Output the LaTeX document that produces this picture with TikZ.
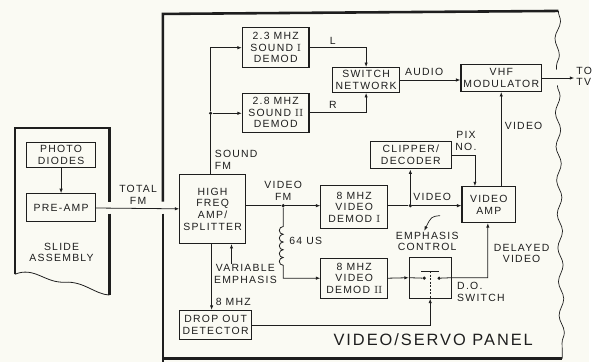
\documentclass[tikz,border=0pt]{standalone}
\usepackage{fontspec}
\newfontfamily\labelfont[LetterSpace=12]{Liberation Sans}
\usetikzlibrary{arrows.meta, decorations.pathmorphing}
\definecolor{paper}{RGB}{250,250,243}
\definecolor{ink}{RGB}{30,30,30}
\newcommand{\romnum}[1]{{\rmfamily #1}}

\begin{document}
\begin{tikzpicture}[
    x=1pt, y=-1pt, color=ink,
    font=\labelfont\fontsize{10.5}{11.7}\selectfont,
    block/.style={draw, line width=1.1pt, align=center, inner sep=1pt},
    tag/.style={align=center, inner sep=1pt},
    arrow/.style={-{Latex[length=4.5pt,width=3.4pt]}, line width=0.8pt},
    wire/.style={line width=0.8pt},
    dot/.style={circle, fill, inner sep=0pt, minimum size=3.6pt},
    panel/.style={line width=2.6pt},
    tornedge/.style={line width=0.7pt, decorate, decoration={snake, amplitude=2.5pt, segment length=34pt}}
]
    \fill[paper] (0,0) rectangle (593,364);

    % slide assembly
    \draw[panel] (110,203) -- (110,129) -- (15,129) -- (15,276);
    \draw[panel] (110,215) -- (110,297);
    \draw[wire] (15,276) .. controls (35,268) and (45,285) .. (65,284) .. controls (85,283) and (95,296) .. (110,297);
    \node[block, minimum width=69, minimum height=26] (diodes) at (61.5,156) {PHOTO\\DIODES};
    \node[block, minimum width=69, minimum height=28] (preamp) at (61.5,209) {PRE-AMP};
    \node[tag] (slide) at (62,254) {SLIDE\\ASSEMBLY};
    \draw[arrow] (diodes) -- (preamp);

    % video/servo panel
    \draw[panel] (164,203) -- (164,14) -- (562,11);
    \draw[panel] (164,215) -- (164,364);
    \draw[panel] (164,361) -- (566,361);
    \draw[tornedge] (562,11) -- (560,70);
    \draw[tornedge] (561,86) -- (566,361);
    \node[font=\labelfont\fontsize{16.5}{20}\selectfont] (paneltag) at (436,342) {VIDEO/SERVO PANEL};

    % blocks
    \node[block, minimum width=66, minimum height=69] (hfamp) at (214,210.5) {HIGH\\FREQ\\AMP/\\SPLITTER};
    \node[block, minimum width=67, minimum height=40] (snd1) at (277.5,48) {2.3 MHZ\\SOUND \romnum{I}\\DEMOD};
    \node[block, minimum width=67, minimum height=39] (snd2) at (277.5,113.5) {2.8 MHZ\\SOUND \romnum{II}\\DEMOD};
    \node[block, minimum width=67, minimum height=25] (switch) at (368.5,80.5) {SWITCH\\NETWORK};
    \node[block, minimum width=81, minimum height=27] (vhf) at (504.5,78.5) {VHF\\MODULATOR};
    \node[block, minimum width=81, minimum height=28] (clipper) at (413.5,156) {CLIPPER/\\DECODER};
    \node[block, minimum width=54, minimum height=36] (vamp) at (492,206) {VIDEO\\AMP};
    \node[block, minimum width=67, minimum height=43] (vdem1) at (356.5,208.5) {8 MHZ\\VIDEO\\DEMOD \romnum{I}};
    \node[block, minimum width=67, minimum height=40] (vdem2) at (356.5,280) {8 MHZ\\VIDEO\\DEMOD \romnum{II}};
    \node[block, minimum width=42, minimum height=41] (doswitch) at (433,279.5) {};
    \node[block, minimum width=72, minimum height=29] (dropout) at (217,327) {DROP OUT\\DETECTOR};

    % junctions
    \node[dot] (jsnd) at (212,114) {};
    \node[dot] (jvfm) at (285,207) {};
    \node[dot] (jvid) at (413,207) {};
    \node[dot] (swa) at (427,280) {};
    \node[dot] (swb) at (442,280) {};
    \coordinate (tv) at (578,78.5);
    \coordinate (emstart) at (443,217);

    % labels
    \node[tag] (totalfm) at (139,196) {TOTAL\\FM};
    \node[tag, anchor=west, align=left] (soundfm) at (215,161) {SOUND\\FM};
    \node[tag] (lch) at (335,41) {L};
    \node[tag] (rch) at (335,106) {R};
    \node[tag] (audio) at (427,72) {AUDIO};
    \node[tag, anchor=west, align=left] (totv) at (579,77) {TO\\TV};
    \node[tag] (vidup) at (527,127) {VIDEO};
    \node[tag] (pixno) at (469,142) {PIX\\NO.};
    \node[tag] (videofm) at (285,192) {VIDEO\\FM};
    \node[tag, anchor=west] (delay) at (290,242) {64 US};
    \node[tag] (vidin) at (435,198) {VIDEO};
    \node[tag] (emph) at (430,243) {EMPHASIS\\CONTROL};
    \node[tag] (delayed) at (525,255) {DELAYED\\VIDEO};
    \node[tag, anchor=west, align=left] (dosw) at (459,294) {D.O.\\SWITCH};
    \node[tag] (varemph) at (247,276) {VARIABLE\\EMPHASIS};
    \node[tag, anchor=west] (eightmhz) at (216,304) {8 MHZ};

    % connectors
    \draw[arrow] (preamp) -- (hfamp);
    \draw[wire] (hfamp.north -| jsnd) -- (jsnd);
    \draw[arrow] (jsnd) -- (jsnd |- snd1.west) -- (snd1.west);
    \draw[arrow] (jsnd) -- (jsnd -| snd2.west);
    \draw[arrow] (snd1.east) -| (switch.north);
    \draw[arrow] (snd2.east) -| (switch.south);
    \draw[arrow] (switch.east) -- (switch.east -| vhf.west);
    \draw[arrow] (vhf.east) -- (tv);
    \draw[arrow] (vamp.north -| vhf.south) -- (vhf.south);
    \draw[arrow] (clipper.east) -| ([xshift=-14pt]vamp.north);
    \draw[wire] (hfamp.east |- jvfm) -- (jvfm);
    \draw[arrow] (jvfm) -- (jvfm -| vdem1.west);
    \draw[arrow] (jvfm) -- ++(0,21)
        \foreach \k in {1,...,5} { arc[start angle=90, end angle=270, radius=3.9pt] }
        -- (jvfm |- vdem2.west) -- (vdem2.west);
    \draw[wire] (vdem1.east |- jvid) -- (jvid);
    \draw[arrow] (jvid) -- (jvid -| vamp.west);
    \draw[arrow] (jvid) -- (jvid |- clipper.south);
    \draw[arrow, line width=0.7pt] (emstart) .. controls (434,218) .. ([xshift=-3pt]emph.north);
    \draw[arrow] (vdem2.east) -- (doswitch.west);
    \draw[wire] (doswitch.west) -- (swa);
    \draw[wire] (424,273) -- (442,273);
    \draw[wire, dash pattern=on 2pt off 1.5pt] (433,273) -- (doswitch.south);
    \draw[arrow] (swb) -- (doswitch.east) -| ([xshift=-1pt]vamp.south);
    \draw[arrow] (dropout.east) -| (doswitch.south);
    \draw[arrow] ([xshift=-1pt]hfamp.south) -- ([xshift=-1pt]hfamp.south |- dropout.north);
    \draw[arrow] ([xshift=19pt]hfamp.south |- varemph.north) -- ([xshift=19pt]hfamp.south);
\end{tikzpicture}
\end{document}
